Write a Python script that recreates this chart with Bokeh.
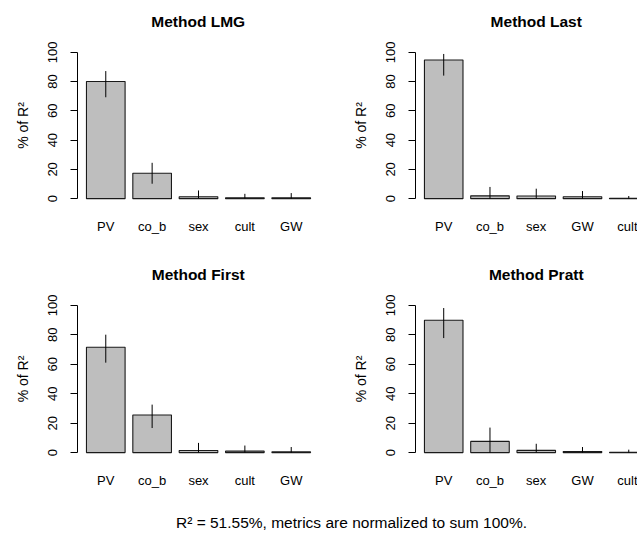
from bokeh.plotting import figure
from bokeh.layouts import column, row
from bokeh.models import Range1d, FixedTicker, ColumnDataSource
from bokeh.core.properties import value
from bokeh.embed import file_html
from bokeh.resources import INLINE

# Relative importance of regressors (% of R^2) with bootstrap intervals
lmg_names = ["PV", "co_b", "sex", "cult", "GW"]
lmg_vals = [80.1, 17.4, 1.3, 0.6, 0.6]
lmg_lo = [69.3, 10.2, 0.3, 0.1, 0.1]
lmg_hi = [87.2, 24.5, 5.6, 3.3, 3.8]

last_names = ["PV", "co_b", "sex", "GW", "cult"]
last_vals = [94.8, 1.9, 1.8, 1.3, 0.2]
last_lo = [84.1, 0.0, 0.1, 0.0, 0.0]
last_hi = [98.9, 8.0, 6.8, 5.2, 1.8]

first_names = ["PV", "co_b", "sex", "cult", "GW"]
first_vals = [71.6, 25.5, 1.4, 1.0, 0.5]
first_lo = [61.1, 16.7, 0.1, 0.1, 0.0]
first_hi = [80.1, 32.6, 6.6, 4.8, 3.8]

pratt_names = ["PV", "co_b", "sex", "GW", "cult"]
pratt_vals = [89.9, 7.6, 1.5, 0.8, 0.2]
pratt_lo = [77.8, 0.0, 0.1, 0.0, 0.0]
pratt_hi = [98.2, 17.0, 6.0, 3.8, 2.0]

top_titles = ["Method LMG", "Method Last"]
bottom_titles = ["Method First", "Method Pratt"]

y_ticks = [0, 20, 40, 60, 80, 100]
footer_text = "R\u00b2 = 51.55%, metrics are normalized to sum 100%."

FONT = "Liberation Sans"
X_LO, X_HI = -0.032, 6.232   # barplot x limits (0.2..6.0 plus 4%)
Y_LO, Y_HI = -4, 104
PX_PER_UNIT = 38.55          # horizontal scale of every panel

# page geometry
PAGE_W = 637
LEFT_W, RIGHT_W = 320, 317
LEFT_PAD, RIGHT_PAD = 77, 95
PLOT_W = (X_HI - X_LO) * PX_PER_UNIT
TITLE_X = [LEFT_PAD + PLOT_W / 2, LEFT_W + RIGHT_PAD + PLOT_W / 2]


def panel(names, vals, lo, hi, width, height, left, right, top, bottom, x_end):
    # barplot layout: bars of width 1 separated by 0.2
    xs = [0.7 + 1.2 * i for i in range(len(names))]
    src = ColumnDataSource(dict(x=xs, top=vals, lo=lo, hi=hi))
    p = figure(width=width, height=height, output_backend="svg", toolbar_location=None,
               x_range=Range1d(X_LO, x_end), y_range=Range1d(Y_LO, Y_HI),
               min_border_left=left, min_border_right=right,
               min_border_top=top, min_border_bottom=bottom)
    p.outline_line_color = None
    p.grid.visible = False
    p.background_fill_color = "white"
    p.border_fill_color = "white"

    p.vbar(x="x", top="top", bottom=0, width=1.0, source=src,
           fill_color="#BEBEBE", line_color="#1a1a1a", line_width=1.1)
    p.segment(x0="x", y0="lo", x1="x", y1="hi", source=src,
              line_color="black", line_width=1)

    # x axis: names only
    xa = p.xaxis[0]
    xa.ticker = FixedTicker(ticks=xs)
    xa.major_label_overrides = {x: n for x, n in zip(xs, names)}
    xa.axis_line_color = None
    xa.major_tick_line_color = None
    xa.minor_tick_line_color = None
    xa.major_tick_out = 0
    xa.major_tick_in = 0
    xa.major_label_standoff = 14
    xa.major_label_text_font = FONT
    xa.major_label_text_font_size = "13px"
    xa.major_label_text_color = "black"

    # y axis spanning 0..100 only
    ya = p.yaxis[0]
    ya.ticker = FixedTicker(ticks=y_ticks)
    ya.bounds = (0, 100)
    ya.minor_tick_line_color = None
    ya.major_tick_out = 7
    ya.major_tick_in = 0
    ya.axis_line_color = "black"
    ya.major_tick_line_color = "black"
    ya.major_label_orientation = "vertical"
    ya.major_label_standoff = 13
    ya.major_label_text_font = FONT
    ya.major_label_text_font_size = "13px"
    ya.major_label_text_color = "black"
    ya.axis_label = "% of R\u00b2"
    ya.axis_label_text_font = FONT
    ya.axis_label_text_font_size = "14px"
    ya.axis_label_text_font_style = "normal"
    ya.axis_label_text_color = "black"
    ya.axis_label_standoff = 15
    return p


def text_strip(height, xs, texts, y, size, style):
    s = figure(width=PAGE_W, height=height, output_backend="svg", toolbar_location=None,
               x_range=Range1d(0, PAGE_W), y_range=Range1d(0, height), min_border=0)
    s.axis.visible = False
    s.grid.visible = False
    s.outline_line_color = None
    s.text(x=xs, y=[y] * len(xs), text=texts, text_align="center",
           text_baseline="middle", text_font=value(FONT),
           text_font_size=size, text_font_style=style, text_color="black")
    return s


t1 = text_strip(36, TITLE_X, top_titles, 15.5, "15.5px", "bold")
p1 = panel(lmg_names, lmg_vals, lmg_lo, lmg_hi,
           LEFT_W, 219, LEFT_PAD, 1, 10, 51, X_HI)
p2 = panel(last_names, last_vals, last_lo, last_hi,
           RIGHT_W, 219, RIGHT_PAD, 0, 10, 51, X_LO + (RIGHT_W - RIGHT_PAD) / PX_PER_UNIT)
t2 = text_strip(34, TITLE_X, bottom_titles, 15, "15.5px", "bold")
p3 = panel(first_names, first_vals, first_lo, first_hi,
           LEFT_W, 211, LEFT_PAD, 1, 10, 42, X_HI)
p4 = panel(pratt_names, pratt_vals, pratt_lo, pratt_hi,
           RIGHT_W, 211, RIGHT_PAD, 0, 10, 42, X_LO + (RIGHT_W - RIGHT_PAD) / PX_PER_UNIT)
foot = text_strip(33, [351], [footer_text], 11, "15.5px", "normal")

layout = column(t1, row(p1, p2), t2, row(p3, p4), foot)
open("out.html", "w").write(file_html(layout, INLINE))
